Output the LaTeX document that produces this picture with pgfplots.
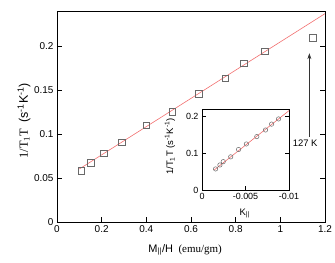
\documentclass[border=0pt]{standalone}
\usepackage{fontspec}
\setmainfont{Liberation Serif}
\setsansfont{Liberation Sans}
\usepackage{pgfplots}
\pgfplotsset{compat=1.18}
\usetikzlibrary{arrows.meta}
\definecolor{fitred}{RGB}{242,110,110}
\definecolor{mk}{RGB}{105,105,105}
\begin{document}
\begin{tikzpicture}
\useasboundingbox (-57bp,-41bp) rectangle (278bp,222bp);
\begin{axis}[at={(0,0)}, anchor=south west, scale only axis,
  width=268bp, height=211bp,
  xmin=0, xmax=1.2, ymin=0, ymax=0.24,
  xtick={0,0.2,0.4,0.6,0.8,1,1.2}, xticklabels={0,0.2,0.4,0.6,0.8,1,1.2},
  ytick={0,0.05,0.1,0.15,0.2}, yticklabels={0,0.05,0.1,0.15,0.2},
  scaled ticks=false,
  tick align=inside, xtick pos=bottom, ytick pos=both,
  major tick length=5bp,
  axis line style={line width=0.8pt},
  every tick/.style={black, line width=0.6pt},
  /pgf/number format/assume math mode=true,
  tick label style={font=\sffamily\fontsize{10}{12}\selectfont},
  xlabel={{\sffamily M\textsubscript{||}/H}\ \ (emu/gm)},
  xlabel style={font=\fontsize{11}{13}\selectfont, at={(rel axis cs:0.478,0)}, anchor=base, yshift=-30bp},
  ylabel={1/T\textsubscript{1}T\ \ {\sffamily(s\textsuperscript{-1}K\textsuperscript{-1})}},
  ylabel style={font=\fontsize{12.5}{14}\selectfont, at={(rel axis cs:0,0.48)}, anchor=center, yshift=33bp},
  clip=true,
]
\addplot[fitred, line width=0.6pt, no marks] coordinates {(0.1,0.0603) (1.2,0.2370)};
\addplot[only marks, mark=square, mark size=3.3bp, mark options={mk, line width=0.6pt}] coordinates {
 (0.108,0.058) (0.151,0.067) (0.210,0.078) (0.290,0.0905) (0.400,0.110)
 (0.517,0.1253) (0.634,0.1455) (0.753,0.1636) (0.837,0.1807) (0.930,0.194) (1.146,0.2094)};
\draw[-{Stealth[length=6bp,width=4bp]}, line width=0.6pt, black!80] (axis cs:1.13,0.097) -- (axis cs:1.13,0.192);
\node[font=\sffamily\fontsize{9.5}{11}\selectfont, anchor=center] at (axis cs:1.111,0.0895) {127 K};
\end{axis}
\begin{axis}[at={(145bp,32bp)}, anchor=south west, scale only axis,
  width=87bp, height=81bp,
  x dir=reverse, xmin=-0.01, xmax=0, ymin=0, ymax=0.22,
  xtick={0,-0.005,-0.01}, xticklabels={0,-0.005,-0.01},
  ytick={0,0.1,0.2}, yticklabels={0,0.1,0.2},
  scaled ticks=false,
  tick align=inside, xtick pos=bottom, ytick pos=both,
  major tick length=4bp,
  axis line style={line width=0.8pt},
  every tick/.style={black, line width=0.6pt},
  axis background/.style={fill=white},
  /pgf/number format/assume math mode=true,
  tick label style={font=\sffamily\fontsize{9}{11}\selectfont},
  xlabel={K\textsubscript{||}},
  xlabel style={font=\sffamily\fontsize{9.5}{11}\selectfont, at={(rel axis cs:0.49,0)}, anchor=base, yshift=-25bp},
  ylabel={1/T\textsubscript{1}T (s\textsuperscript{-1}K\textsuperscript{-1})},
  ylabel style={font=\sffamily\fontsize{9.5}{11}\selectfont, at={(rel axis cs:0,0.537)}, anchor=center, yshift=32bp},
]
\addplot[fitred, line width=0.6pt, no marks] coordinates {(-0.0014,0.0543) (-0.0100,0.2155)};
\addplot[only marks, mark=o, mark size=2.2bp, mark options={mk, line width=0.5pt}] coordinates {
 (-0.00156,0.0572) (-0.00206,0.068) (-0.00244,0.077) (-0.0033,0.090) (-0.0042,0.110)
 (-0.0051,0.125) (-0.0063,0.145) (-0.0073,0.163) (-0.0080,0.179) (-0.0088,0.193)};
\end{axis}
\end{tikzpicture}
\end{document}
